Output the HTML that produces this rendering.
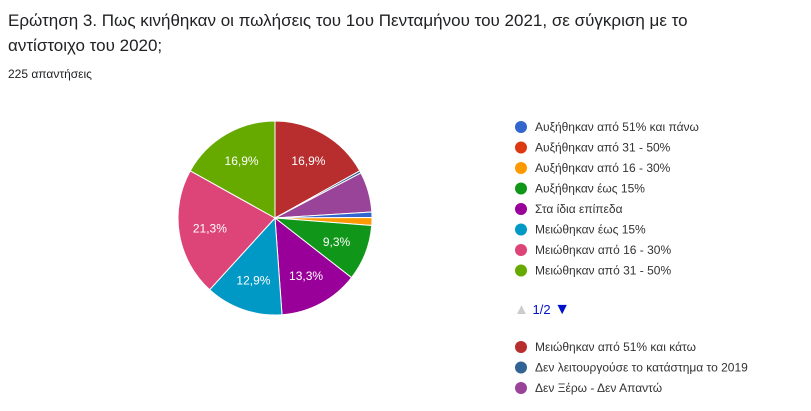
<!DOCTYPE html>
<html><head><meta charset="utf-8"><style>
body{margin:0;width:811px;height:411px;background:#fff;font-family:"Liberation Sans",sans-serif;overflow:hidden;position:relative}
.t{position:absolute;left:8px;font-size:17px;color:#202124}
</style></head><body>
<div class="t" style="top:8px;line-height:25px">Ερώτηση 3. Πως κινήθηκαν οι πωλήσεις του 1ου Πενταμήνου του 2021, σε σύγκριση με το<br>αντίστοιχο του 2020;</div>
<div style="position:absolute;left:8px;top:67px;font-size:12px;color:#202124">225 απαντήσεις</div>
<svg id="c" width="811" height="411" style="position:absolute;left:0;top:0"></svg>
<script>
const labels=["Αυξήθηκαν από 51% και πάνω","Αυξήθηκαν από 31 - 50%","Αυξήθηκαν από 16 - 30%","Αυξήθηκαν έως 15%","Στα ίδια επίπεδα","Μειώθηκαν έως 15%","Μειώθηκαν από 16 - 30%","Μειώθηκαν από 31 - 50%","Μειώθηκαν από 51% και κάτω","Δεν λειτουργούσε το κατάστημα το 2019","Δεν Ξέρω - Δεν Απαντώ"];
const colors=["#3366cc","#dc3912","#ff9900","#109618","#990099","#0099c6","#dd4477","#66aa00","#b82e2e","#316395","#994499"];
const values=[0.9,0,1.3,9.3,13.3,12.9,21.3,16.9,16.9,0.4,6.7];
const order=[8,9,10,0,1,2,3,4,5,6,7];
const svg=document.getElementById('c');const NS='http://www.w3.org/2000/svg';
const cx=275,cy=218,r=97;
const total=values.reduce((a,b)=>a+b,0);
let acc=0;
function pt(f,rr){const a=f*2*Math.PI;return [cx+rr*Math.sin(a),cy-rr*Math.cos(a)];}
order.forEach(i=>{const v=values[i];if(v<=0)return;const f0=acc/total,f1=(acc+v)/total;acc+=v;
const p0=pt(f0,r),p1=pt(f1,r);const p=document.createElementNS(NS,'path');
p.setAttribute('d',`M${cx},${cy}L${p0[0]},${p0[1]}A${r},${r} 0 ${f1-f0>0.5?1:0} 1 ${p1[0]},${p1[1]}Z`);
p.setAttribute('fill',colors[i]);p.setAttribute('stroke','#fff');p.setAttribute('stroke-width','1');


svg.appendChild(p);
if(v>=8){const m=pt((f0+f1)/2,r*0.68);const t=document.createElementNS(NS,'text');
t.setAttribute('x',m[0]);t.setAttribute('y',m[1]+4);t.setAttribute('text-anchor','middle');t.setAttribute('fill','#fff');t.setAttribute('font-size','12');
t.textContent=v.toFixed(1).replace('.',',')+'%';


svg.appendChild(t);}
});
function leg(i,y){const c=document.createElementNS(NS,'circle');c.setAttribute('cx',521);c.setAttribute('cy',y);c.setAttribute('r',6);c.setAttribute('fill',colors[i]);


svg.appendChild(c);
const t=document.createElementNS(NS,'text');t.setAttribute('x',535);t.setAttribute('y',y+4);t.setAttribute('font-size','12');t.setAttribute('fill','#333');t.textContent=labels[i];


svg.appendChild(t);}
for(let i=0;i<8;i++)leg(i,127+i*20.5);
for(let i=8;i<11;i++)leg(i,347+(i-8)*20.5);
</script>
<div style="position:absolute;left:514px;top:301px;font-size:13px;color:#222"><span style="color:#ccc;font-size:15px">▲</span> <span style="color:#0011cc">1/2</span> <span style="color:#0011cc;font-size:16px">▼</span></div>
</body></html>
